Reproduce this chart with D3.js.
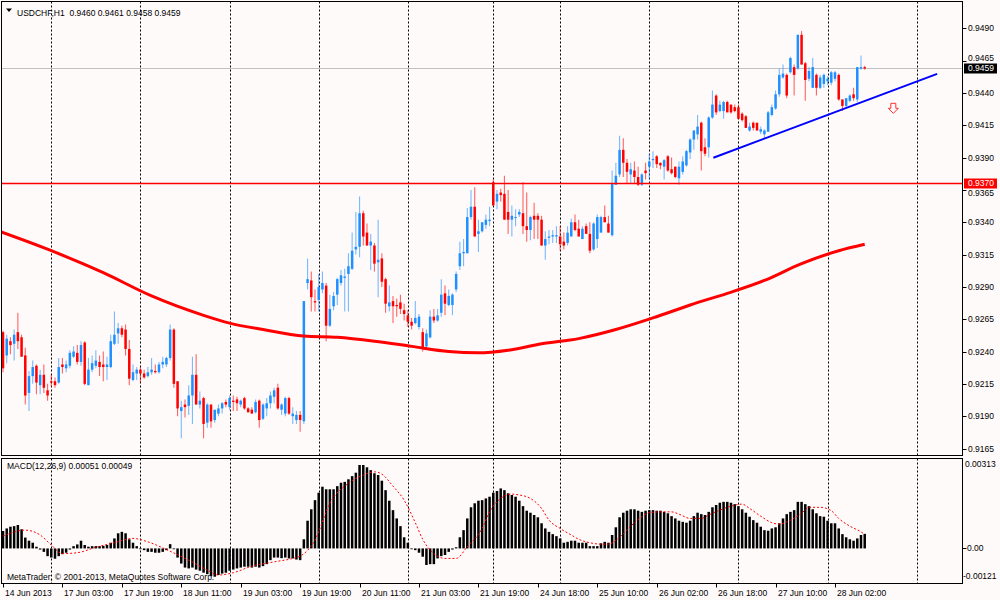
<!DOCTYPE html>
<html>
<head>
<meta charset="utf-8">
<script src="https://cdn.jsdelivr.net/npm/d3@7"></script>
<style>
    html, body { margin: 0; padding: 0; background: #fffafa; }
    svg { display: block; font-family: "Liberation Sans", Arial, sans-serif; font-size: 8.5px; }
</style>
</head>
<body>
<svg id="chart" width="1000" height="600"></svg>
<script>
// USDCHF H1 candles, one entry per bar
const opens = [
    0.9255,0.9237,0.9248,0.9246,0.9255,0.9251,0.9237,0.9208,0.9221,0.9229,
    0.9214,0.9222,0.9210,0.9217,0.9217,0.9216,0.9230,0.9227,0.9229,0.9236,
    0.9239,0.9232,0.9247,0.9214,0.9226,0.9229,0.9232,0.9230,0.9228,0.9228,
    0.9246,0.9254,0.9258,0.9257,0.9242,0.9218,0.9223,0.9226,0.9223,0.9221,
    0.9224,0.9225,0.9224,0.9230,0.9230,0.9235,0.9257,0.9217,0.9194,0.9199,
    0.9198,0.9206,0.9222,0.9199,0.9204,0.9185,0.9199,0.9187,0.9192,0.9196,
    0.9201,0.9197,0.9202,0.9203,0.9199,0.9204,0.9196,0.9195,0.9193,0.9202,
    0.9188,0.9196,0.9200,0.9205,0.9212,0.9195,0.9192,0.9204,0.9190,0.9187,
    0.9191,0.9186,0.9293,0.9295,0.9279,0.9280,0.9288,0.9291,0.9260,0.9275,
    0.9284,0.9293,0.9297,0.9300,0.9304,0.9319,0.9321,0.9347,0.9332,0.9322,
    0.9322,0.9309,0.9312,0.9296,0.9275,0.9279,0.9276,0.9278,0.9272,0.9268,
    0.9263,0.9262,0.9259,0.9255,0.9244,0.9251,0.9267,0.9264,0.9270,0.9285,
    0.9276,0.9276,0.9288,0.9306,0.9316,0.9316,0.9344,0.9352,0.9331,0.9333,
    0.9338,0.9341,0.9371,0.9356,0.9363,0.9362,0.9348,0.9342,0.9344,0.9346,
    0.9347,0.9337,0.9334,0.9345,0.9345,0.9342,0.9322,0.9328,0.9329,0.9329,
    0.9329,0.9325,0.9324,0.9329,0.9340,0.9335,0.9327,0.9337,0.9331,0.9319,
    0.9327,0.9332,0.9344,0.9339,0.9330,0.9369,0.9377,0.9396,0.9386,0.9377,
    0.9380,0.9375,0.9369,0.9380,0.9383,0.9388,0.9391,0.9386,0.9383,0.9391,
    0.9381,0.9383,0.9374,0.9379,0.9384,0.9394,0.9404,0.9408,0.9417,0.9398,
    0.9398,0.9421,0.9438,0.9426,0.9426,0.9433,0.9431,0.9429,0.9429,0.9424,
    0.9422,0.9411,0.9417,0.9417,0.9410,0.9408,0.9410,0.9423,0.9428,0.9439,
    0.9452,0.9454,0.9456,0.9460,0.9459,0.9485,0.9463,0.9451,0.9444,0.9454,
    0.9444,0.9447,0.9449,0.9448,0.9451,0.9454,0.9435,0.9430,0.9434,0.9439,
    0.9435,0.9459,0.9460
];
const highs = [
    0.9256,0.9253,0.9251,0.9257,0.9270,0.9253,0.9243,0.9225,0.9233,0.9230,
    0.9226,0.9230,0.9215,0.9222,0.9220,0.9235,0.9235,0.9233,0.9241,0.9244,
    0.9245,0.9248,0.9248,0.9235,0.9237,0.9241,0.9237,0.9240,0.9236,0.9253,
    0.9271,0.9262,0.9260,0.9261,0.9249,0.9230,0.9228,0.9228,0.9226,0.9228,
    0.9235,0.9230,0.9232,0.9236,0.9236,0.9261,0.9258,0.9217,0.9202,0.9203,
    0.9214,0.9236,0.9238,0.9209,0.9205,0.9200,0.9199,0.9195,0.9199,0.9201,
    0.9203,0.9206,0.9206,0.9205,0.9203,0.9205,0.9197,0.9197,0.9203,0.9203,
    0.9200,0.9204,0.9209,0.9212,0.9215,0.9200,0.9205,0.9205,0.9197,0.9194,
    0.9194,0.9279,0.9312,0.9302,0.9288,0.9300,0.9302,0.9293,0.9284,0.9286,
    0.9297,0.9303,0.9304,0.9316,0.9332,0.9348,0.9360,0.9349,0.9339,0.9331,
    0.9324,0.9342,0.9316,0.9297,0.9291,0.9283,0.9281,0.9284,0.9277,0.9272,
    0.9266,0.9279,0.9269,0.9258,0.9257,0.9272,0.9273,0.9273,0.9296,0.9291,
    0.9288,0.9285,0.9302,0.9325,0.9327,0.9351,0.9365,0.9367,0.9342,0.9340,
    0.9346,0.9352,0.9373,0.9365,0.9366,0.9376,0.9365,0.9353,0.9350,0.9350,
    0.9371,0.9363,0.9345,0.9355,0.9347,0.9345,0.9333,0.9334,0.9334,0.9337,
    0.9337,0.9332,0.9337,0.9343,0.9346,0.9342,0.9337,0.9339,0.9340,0.9340,
    0.9346,0.9345,0.9353,0.9345,0.9380,0.9386,0.9407,0.9405,0.9389,0.9386,
    0.9387,0.9383,0.9378,0.9386,0.9393,0.9395,0.9392,0.9386,0.9389,0.9392,
    0.9390,0.9383,0.9387,0.9391,0.9396,0.9405,0.9411,0.9423,0.9418,0.9405,
    0.9422,0.9442,0.9439,0.9434,0.9434,0.9434,0.9431,0.9431,0.9431,0.9425,
    0.9423,0.9417,0.9418,0.9417,0.9414,0.9412,0.9426,0.9431,0.9442,0.9459,
    0.9462,0.9455,0.9468,0.9462,0.9485,0.9488,0.9464,0.9460,0.9467,0.9455,
    0.9454,0.9455,0.9453,0.9457,0.9457,0.9455,0.9435,0.9436,0.9439,0.9444,
    0.9460,0.9469,0.9461
];
const lows = [
    0.9224,0.9231,0.9238,0.9233,0.9242,0.9236,0.9199,0.9194,0.9215,0.9207,
    0.9207,0.9208,0.9202,0.9213,0.9212,0.9215,0.9223,0.9224,0.9227,0.9235,
    0.9230,0.9229,0.9214,0.9214,0.9224,0.9227,0.9221,0.9217,0.9218,0.9227,
    0.9245,0.9246,0.9251,0.9237,0.9214,0.9217,0.9218,0.9216,0.9219,0.9220,
    0.9222,0.9223,0.9223,0.9227,0.9228,0.9233,0.9212,0.9190,0.9173,0.9189,
    0.9191,0.9184,0.9199,0.9196,0.9173,0.9181,0.9181,0.9185,0.9190,0.9192,
    0.9197,0.9195,0.9194,0.9194,0.9197,0.9195,0.9193,0.9192,0.9192,0.9181,
    0.9187,0.9190,0.9196,0.9200,0.9195,0.9191,0.9190,0.9191,0.9184,0.9184,
    0.9178,0.9184,0.9288,0.9271,0.9271,0.9271,0.9285,0.9248,0.9259,0.9272,
    0.9276,0.9291,0.9271,0.9271,0.9303,0.9315,0.9313,0.9322,0.9322,0.9303,
    0.9302,0.9282,0.9290,0.9270,0.9271,0.9262,0.9267,0.9269,0.9264,0.9259,
    0.9257,0.9261,0.9257,0.9240,0.9242,0.9250,0.9262,0.9263,0.9267,0.9268,
    0.9275,0.9268,0.9286,0.9303,0.9306,0.9316,0.9342,0.9329,0.9317,0.9332,
    0.9335,0.9337,0.9353,0.9350,0.9356,0.9342,0.9331,0.9329,0.9337,0.9344,
    0.9331,0.9325,0.9326,0.9327,0.9327,0.9322,0.9311,0.9323,0.9324,0.9324,
    0.9318,0.9319,0.9322,0.9329,0.9333,0.9329,0.9327,0.9331,0.9316,0.9318,
    0.9320,0.9332,0.9340,0.9332,0.9329,0.9369,0.9375,0.9375,0.9370,0.9370,
    0.9370,0.9368,0.9368,0.9373,0.9373,0.9382,0.9382,0.9381,0.9373,0.9379,
    0.9377,0.9374,0.9369,0.9377,0.9383,0.9389,0.9396,0.9404,0.9380,0.9391,
    0.9390,0.9420,0.9423,0.9425,0.9420,0.9425,0.9424,0.9425,0.9420,0.9418,
    0.9413,0.9410,0.9411,0.9411,0.9408,0.9405,0.9410,0.9422,0.9427,0.9437,
    0.9451,0.9436,0.9455,0.9438,0.9458,0.9462,0.9434,0.9449,0.9444,0.9438,
    0.9443,0.9444,0.9446,0.9446,0.9449,0.9434,0.9426,0.9429,0.9433,0.9434,
    0.9433,0.9458,0.9458
];
const closes = [
    0.9227,0.9250,0.9245,0.9253,0.9248,0.9236,0.9206,0.9221,0.9228,0.9216,
    0.9222,0.9212,0.9206,0.9216,0.9214,0.9228,0.9228,0.9230,0.9239,0.9240,
    0.9232,0.9245,0.9215,0.9226,0.9231,0.9233,0.9228,0.9228,0.9230,0.9248,
    0.9253,0.9258,0.9253,0.9242,0.9219,0.9224,0.9226,0.9223,0.9220,0.9224,
    0.9226,0.9224,0.9230,0.9232,0.9235,0.9257,0.9215,0.9196,0.9197,0.9197,
    0.9206,0.9222,0.9199,0.9202,0.9184,0.9199,0.9186,0.9195,0.9196,0.9200,
    0.9199,0.9204,0.9201,0.9200,0.9202,0.9196,0.9193,0.9192,0.9201,0.9187,
    0.9199,0.9200,0.9206,0.9210,0.9196,0.9199,0.9204,0.9192,0.9192,0.9191,
    0.9187,0.9279,0.9296,0.9282,0.9278,0.9290,0.9293,0.9260,0.9273,0.9283,
    0.9296,0.9299,0.9298,0.9306,0.9318,0.9321,0.9347,0.9329,0.9322,0.9325,
    0.9308,0.9311,0.9294,0.9277,0.9278,0.9275,0.9275,0.9273,0.9269,0.9263,
    0.9260,0.9266,0.9267,0.9242,0.9254,0.9267,0.9264,0.9268,0.9284,0.9277,
    0.9283,0.9284,0.9300,0.9316,0.9317,0.9344,0.9352,0.9329,0.9333,0.9340,
    0.9342,0.9342,0.9353,0.9362,0.9361,0.9342,0.9342,0.9345,0.9344,0.9348,
    0.9337,0.9334,0.9344,0.9342,0.9342,0.9322,0.9327,0.9329,0.9330,0.9330,
    0.9323,0.9322,0.9332,0.9340,0.9334,0.9329,0.9335,0.9331,0.9318,0.9339,
    0.9344,0.9344,0.9340,0.9332,0.9370,0.9376,0.9396,0.9386,0.9379,0.9381,
    0.9375,0.9369,0.9377,0.9378,0.9387,0.9389,0.9385,0.9384,0.9388,0.9380,
    0.9378,0.9375,0.9383,0.9387,0.9395,0.9404,0.9411,0.9414,0.9395,0.9393,
    0.9421,0.9431,0.9425,0.9431,0.9433,0.9425,0.9425,0.9426,0.9420,0.9419,
    0.9413,0.9414,0.9413,0.9411,0.9412,0.9411,0.9425,0.9429,0.9439,0.9454,
    0.9455,0.9438,0.9467,0.9454,0.9485,0.9462,0.9450,0.9457,0.9460,0.9444,
    0.9452,0.9454,0.9451,0.9456,0.9456,0.9435,0.9430,0.9436,0.9438,0.9436,
    0.9460,0.9460,0.9459
];

// moving average, read at sample bars
const maBars = [-1, 13, 27, 40, 54, 61, 70, 81, 90, 100, 110, 120, 128, 136, 145, 155, 165, 175, 185, 195, 205, 215, 225, 232];
const maVals = [0.9333, 0.9318, 0.9301, 0.9283, 0.9268, 0.9262, 0.9257, 0.9252, 0.9251, 0.9248, 0.9244, 0.9240, 0.9239, 0.9241, 0.9246, 0.9250, 0.9257, 0.9266, 0.9276, 0.9285, 0.9295, 0.9308, 0.9318, 0.9323];

// MACD(12,26,9) main values, one per bar
const macdMain = [
    0.00061,0.00070,0.00076,0.00078,0.00082,0.00067,0.00038,0.00027,0.00020,0.00006,
    -0.00004,-0.00012,-0.00027,-0.00032,-0.00036,-0.00027,-0.00020,-0.00015,-0.00004,0.00008,
    0.00014,0.00027,0.00012,0.00006,0.00008,0.00008,0.00008,0.00009,0.00012,0.00020,
    0.00035,0.00053,0.00058,0.00053,0.00032,0.00020,0.00008,0.00000,-0.00006,-0.00012,
    -0.00012,-0.00015,-0.00015,-0.00012,-0.00006,0.00015,0.00000,-0.00032,-0.00053,-0.00067,
    -0.00070,-0.00067,-0.00074,-0.00078,-0.00085,-0.00090,-0.00097,-0.00099,-0.00093,-0.00088,
    -0.00085,-0.00078,-0.00074,-0.00070,-0.00067,-0.00064,-0.00064,-0.00067,-0.00064,-0.00067,
    -0.00062,-0.00055,-0.00041,-0.00032,-0.00032,-0.00034,-0.00032,-0.00035,-0.00035,-0.00039,
    -0.00041,0.00032,0.00097,0.00137,0.00169,0.00195,0.00216,0.00207,0.00207,0.00207,
    0.00218,0.00230,0.00233,0.00242,0.00253,0.00265,0.00292,0.00292,0.00284,0.00274,
    0.00263,0.00257,0.00237,0.00204,0.00167,0.00134,0.00105,0.00078,0.00039,0.00020,
    -0.00001,-0.00006,-0.00015,-0.00029,-0.00058,-0.00055,-0.00055,-0.00035,-0.00027,-0.00023,
    -0.00012,-0.00004,0.00004,0.00039,0.00064,0.00105,0.00144,0.00158,0.00167,0.00169,
    0.00175,0.00181,0.00195,0.00201,0.00210,0.00204,0.00193,0.00187,0.00181,0.00167,
    0.00148,0.00132,0.00125,0.00117,0.00109,0.00088,0.00070,0.00058,0.00050,0.00043,
    0.00035,0.00020,0.00023,0.00027,0.00027,0.00020,0.00020,0.00020,0.00008,0.00008,
    0.00008,0.00018,0.00023,0.00020,0.00047,0.00074,0.00109,0.00125,0.00132,0.00137,
    0.00137,0.00132,0.00128,0.00132,0.00134,0.00134,0.00132,0.00132,0.00128,0.00123,
    0.00113,0.00105,0.00097,0.00093,0.00090,0.00097,0.00113,0.00125,0.00120,0.00117,
    0.00128,0.00144,0.00152,0.00160,0.00163,0.00163,0.00160,0.00155,0.00148,0.00137,
    0.00125,0.00111,0.00099,0.00090,0.00076,0.00064,0.00062,0.00070,0.00074,0.00088,
    0.00105,0.00120,0.00128,0.00134,0.00163,0.00163,0.00155,0.00148,0.00137,0.00123,
    0.00113,0.00111,0.00097,0.00088,0.00088,0.00070,0.00050,0.00039,0.00032,0.00027,
    0.00035,0.00047,0.00051
];

// signal line, read at sample bars
const sigBars = [0,6,10,13,16,20,25,30,35,39,44,50,55,58,62,67,73,78,80,84,88,93,97,100,102,105,108,111,113,116,119,122,125,129,131,134,137,139,142,145,147,150,153,155,158,161,163,166,169,172,174,177,180,182,185,188,190,193,196,199,201,204,207,209,212,215,217,220,223,225,228,231,232];
const sigVals = [0.00043,0.00064,0.00047,0.00012,-0.00018,-0.00015,0.00004,0.00020,0.00035,0.00023,-0.00004,-0.00041,-0.00076,-0.00093,-0.00085,-0.00062,-0.00047,-0.00035,-0.00027,0.00029,0.00158,0.00228,0.00257,0.00268,0.00260,0.00218,0.00169,0.00090,0.00032,-0.00018,-0.00035,-0.00035,0.00006,0.00070,0.00128,0.00175,0.00190,0.00187,0.00175,0.00140,0.00099,0.00070,0.00047,0.00032,0.00020,0.00015,0.00015,0.00039,0.00078,0.00111,0.00125,0.00128,0.00128,0.00120,0.00105,0.00105,0.00117,0.00134,0.00148,0.00155,0.00140,0.00113,0.00090,0.00085,0.00099,0.00123,0.00144,0.00144,0.00132,0.00105,0.00078,0.00058,0.00049];

const timeLabels = ["14 Jun 2013", "17 Jun 03:00", "17 Jun 19:00", "18 Jun 11:00", "19 Jun 03:00", "19 Jun 19:00", "20 Jun 11:00", "21 Jun 03:00", "21 Jun 19:00", "24 Jun 18:00", "25 Jun 10:00", "26 Jun 02:00", "26 Jun 18:00", "27 Jun 10:00", "28 Jun 02:00"];
const labelBars = [0, 16, 32, 48, 64, 80, 96, 112, 128, 144, 160, 176, 192, 208, 224];
const gridBars = [13, 37, 61, 85, 109, 132, 150, 174, 198, 222, 246];
const priceTicks = [0.9490, 0.9465, 0.9440, 0.9415, 0.9390, 0.9365, 0.9340, 0.9315, 0.9290, 0.9265, 0.9240, 0.9215, 0.9190, 0.9165];
const macdTicks = [0.00313, 0.00, -0.00121];

const bidPrice = 0.9459;
const levelPrice = 0.9370;
const trendBars = [191.25, 251.5];
const trendVals = [0.93899, 0.94548];
const arrowBar = 239.7, arrowPrice = 0.94320;

// layout
const right = 962.5;
const main = { top: 1.5, bottom: 455.5 };
const sub = { top: 458.5, bottom: 583.5 };
const bull = "#1e90ff", bear = "#ff0000";

const svg = d3.select('#chart');
svg.append("rect").attr("width", 1000).attr("height", 600).attr("fill", "#fffafa");

const x = d3.scaleLinear().domain([0, 224]).range([3, 835]);
const y = d3.scaleLinear().domain([0.91592, 0.95096]).range([456, 3]);
const ym = d3.scaleLinear().domain([-0.00121, 0.00313]).range([583, 459]);

const defs = svg.append("defs");
defs.append("clipPath").attr("id", "clipMain").append("rect")
    .attr("x", 1.5).attr("y", main.top).attr("width", right - 1.5).attr("height", main.bottom - main.top);
defs.append("clipPath").attr("id", "clipSub").append("rect")
    .attr("x", 1.5).attr("y", sub.top).attr("width", right - 1.5).attr("height", sub.bottom - sub.top);

const gMain = svg.append("g").attr("clip-path", "url(#clipMain)");
const gSub = svg.append("g").attr("clip-path", "url(#clipSub)");

// vertical dashed grid
[[gMain, main], [gSub, sub]].forEach(([g, p]) => {
    g.selectAll(null).data(gridBars).enter().append("line")
        .attr("x1", d => Math.round(x(d)) + 0.5).attr("x2", d => Math.round(x(d)) + 0.5)
        .attr("y1", p.top).attr("y2", p.bottom)
        .attr("stroke", "#000").attr("stroke-dasharray", "2,2");
});

// horizontal levels
const yBid = Math.round(y(bidPrice)) + 0.5;
const yLevel = Math.round(y(levelPrice)) + 0.5;
gMain.append("line")
    .attr("x1", 0).attr("x2", right).attr("y1", yBid).attr("y2", yBid)
    .attr("stroke", "#c0c0c0").attr("shape-rendering", "crispEdges");

// candles
const bars = d3.range(opens.length).map(i => ({ i, o: opens[i], h: highs[i], l: lows[i], c: closes[i] }));
const candle = gMain.selectAll(".candle").data(bars).enter().append("g");
candle.append("line")
    .attr("x1", d => x(d.i)).attr("x2", d => x(d.i))
    .attr("y1", d => y(d.h)).attr("y2", d => y(d.l))
    .attr("stroke", d => d.c >= d.o ? bull : bear)
    .attr("stroke-opacity", 0.6).attr("stroke-width", 1.1);
candle.append("rect")
    .attr("x", d => x(d.i) - 1.25).attr("width", 2.5)
    .attr("y", d => y(Math.max(d.o, d.c)))
    .attr("height", d => Math.max(1, y(Math.min(d.o, d.c)) - y(Math.max(d.o, d.c))))
    .attr("fill", d => d.c >= d.o ? bull : bear);

// support level drawn above the candles
gMain.append("line")
    .attr("x1", 0).attr("x2", right).attr("y1", yLevel).attr("y2", yLevel)
    .attr("stroke", "#ff0000").attr("stroke-width", 1.4);

// moving average
gMain.append("path")
    .datum(maBars.map((b, k) => [b, maVals[k]]))
    .attr("d", d3.line().x(d => x(d[0])).y(d => y(d[1])).curve(d3.curveMonotoneX))
    .attr("fill", "none").attr("stroke", "#ff0000").attr("stroke-width", 3);

// trend line
gMain.append("line")
    .attr("x1", x(trendBars[0])).attr("y1", y(trendVals[0]))
    .attr("x2", x(trendBars[1])).attr("y2", y(trendVals[1]))
    .attr("stroke", "#0000ff").attr("stroke-width", 2);

// down arrow (hollow)
const ax = x(arrowBar), ay = y(arrowPrice);
gMain.append("path")
    .attr("d", `M${ax - 2.5},${ay} L${ax + 2.5},${ay} L${ax + 2.5},${ay + 5} L${ax + 5},${ay + 5} L${ax},${ay + 10} L${ax - 5},${ay + 5} L${ax - 2.5},${ay + 5} Z`)
    .attr("fill", "#fffafa").attr("stroke", "#ff3030").attr("stroke-width", 1);

// MACD histogram and signal
gSub.selectAll(".hist").data(macdMain).enter().append("rect")
    .attr("x", (d, i) => x(i) - 1.25).attr("width", 2.5)
    .attr("y", d => Math.min(ym(d), ym(0)))
    .attr("height", d => Math.max(0.8, Math.abs(ym(d) - ym(0))))
    .attr("fill", "#000");
gSub.append("path")
    .datum(sigBars.map((b, k) => [b, sigVals[k]]))
    .attr("d", d3.line().x(d => x(d[0])).y(d => ym(d[1])).curve(d3.curveMonotoneX))
    .attr("fill", "none").attr("stroke", "#ff0000").attr("stroke-width", 1).attr("stroke-dasharray", "2,2");

// panel borders
svg.append("rect").attr("x", 1.5).attr("y", main.top).attr("width", right - 1.5).attr("height", main.bottom - main.top)
    .attr("fill", "none").attr("stroke", "#000");
svg.append("rect").attr("x", 1.5).attr("y", sub.top).attr("width", right - 1.5).attr("height", sub.bottom - sub.top)
    .attr("fill", "none").attr("stroke", "#000");

// price scale; the two marker boxes partly cover their neighbouring labels, as in MetaTrader
const pAxis = svg.append("g");
priceTicks.forEach(p => {
    const yy = Math.round(y(p)) + 0.5;
    let shift = 0;
    if (Math.abs(p - bidPrice) < 0.001) shift = -3;
    if (Math.abs(p - levelPrice) < 0.001) shift = 3;
    pAxis.append("line").attr("x1", right).attr("x2", right + 4).attr("y1", yy).attr("y2", yy).attr("stroke", "#000");
    pAxis.append("text").attr("x", 968).attr("y", yy + shift).attr("dy", "0.35em").attr("fill", "#000").text(p.toFixed(4));
});
[[bidPrice, "#000"], [levelPrice, "#ff0000"]].forEach(([p, col]) => {
    const yy = Math.round(y(p)) + 0.5;
    pAxis.append("rect").attr("x", 964).attr("y", yy - 5).attr("width", 33).attr("height", 10).attr("fill", col);
    pAxis.append("text").attr("x", 968).attr("y", yy).attr("dy", "0.35em").attr("fill", "#fff").text(p.toFixed(4));
});

// MACD scale
const mAxis = svg.append("g");
mAxis.append("text").attr("x", 965).attr("y", ym(macdTicks[0]) + 5).attr("dy", "0.35em").text("0.00313");
mAxis.append("line").attr("x1", right).attr("x2", right + 4).attr("y1", Math.round(ym(0)) + 0.5).attr("y2", Math.round(ym(0)) + 0.5).attr("stroke", "#000");
mAxis.append("text").attr("x", 967).attr("y", ym(macdTicks[1]) - 0.5).attr("dy", "0.35em").text("0.00");
mAxis.append("text").attr("x", 963).attr("y", ym(macdTicks[2]) - 7).attr("dy", "0.35em").text("-0.00121");

// time scale
const tAxis = svg.append("g");
labelBars.forEach((b, k) => {
    const xx = Math.round(x(b)) + 0.5;
    tAxis.append("line").attr("x1", xx).attr("x2", xx).attr("y1", sub.bottom).attr("y2", sub.bottom + 4).attr("stroke", "#000");
    tAxis.append("text").attr("x", xx + 1.5).attr("y", 596).text(timeLabels[k]);
});

// captions
svg.append("path").attr("d", "M6,8.5 L12,8.5 L9,12 Z").attr("fill", "#000");
svg.append("text").attr("x", 17).attr("y", 16).attr("xml:space", "preserve")
    .text("USDCHF,H1  0.9460 0.9461 0.9458 0.9459");
svg.append("text").attr("x", 7).attr("y", 469).text("MACD(12,26,9) 0.00051 0.00049");
svg.append("text").attr("x", 7).attr("y", 580).text("MetaTrader, \u00a9 2001-2013, MetaQuotes Software Corp.");
</script>
</body>
</html>
